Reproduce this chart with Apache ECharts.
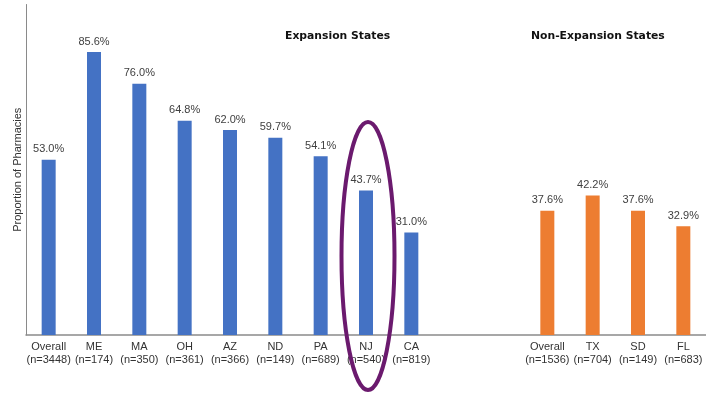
<!DOCTYPE html>
<html>
<head>
<meta charset="utf-8">
<script src="https://cdn.jsdelivr.net/npm/echarts@6/dist/echarts.min.js"></script>
<style>
  html, body { margin: 0; padding: 0; background: #fff; }
  #chart { width: 706px; height: 395px; }
</style>
</head>
<body>
<div id="chart"></div>
<script>
// Categories along the x axis; the two empty slots separate the two state groups
const categories = [
  'Overall\n(n=3448)', 'ME\n(n=174)', 'MA\n(n=350)', 'OH\n(n=361)', 'AZ\n(n=366)',
  'ND\n(n=149)', 'PA\n(n=689)', 'NJ\n(n=540)', 'CA\n(n=819)',
  '', ' ',
  'Overall\n(n=1536)', 'TX\n(n=704)', 'SD\n(n=149)', 'FL\n(n=683)'
];

// Proportion of pharmacies (%) in Medicaid expansion states
const expansionValues = [53.0, 85.6, 76.0, 64.8, 62.0, 59.7, 54.1, 43.7, 31.0, '-', '-', '-', '-', '-', '-'];

// Proportion of pharmacies (%) in non-expansion states
const nonExpansionValues = ['-', '-', '-', '-', '-', '-', '-', '-', '-', '-', '-', 37.6, 42.2, 37.6, 32.9];

const highlightCategory = 'NJ\n(n=540)';

const chart = echarts.init(document.getElementById('chart'));

const labelStyle = {
  show: true,
  position: 'top',
  distance: 5,
  fontFamily: 'Liberation Sans, Arial, sans-serif',
  fontSize: 11,
  color: '#404040',
  formatter: p => p.value.toFixed(1) + '%'
};

const headingStyle = { fontFamily: 'DejaVu Sans', fontWeight: 'bold', fontSize: 10.8, color: '#111' };

chart.setOption({
  animation: false,
  backgroundColor: '#fff',
  title: [
    { text: 'Expansion States', left: 280, top: 26, textStyle: headingStyle },
    { text: 'Non-Expansion States', left: 526, top: 26, textStyle: headingStyle }
  ],
  grid: { left: 26, right: 0, top: 4.5, bottom: 60 },
  xAxis: {
    type: 'category',
    data: categories,
    axisLine: { lineStyle: { color: '#8a8a8a', width: 1.5 } },
    axisTick: { show: false },
    axisLabel: {
      interval: 0,
      margin: 6,
      lineHeight: 12.5,
      fontFamily: 'Liberation Sans, Arial, sans-serif',
      fontSize: 11,
      color: '#333'
    }
  },
  yAxis: {
    type: 'value',
    min: 0,
    max: 100,
    name: 'Proportion of Pharmacies',
    nameLocation: 'middle',
    nameGap: 3,
    nameTextStyle: { fontFamily: 'Liberation Sans, Arial, sans-serif', fontSize: 11, color: '#333' },
    axisLine: { show: true, lineStyle: { color: '#8a8a8a', width: 1 } },
    axisTick: { show: false },
    axisLabel: { show: false },
    splitLine: { show: false }
  },
  series: [
    {
      name: 'Expansion States',
      type: 'bar',
      data: expansionValues,
      barWidth: 14,
      barGap: '-100%',
      itemStyle: { color: '#4472C4' },
      label: labelStyle
    },
    {
      name: 'Non-Expansion States',
      type: 'bar',
      data: nonExpansionValues,
      barWidth: 14,
      itemStyle: { color: '#ED7D31' },
      label: labelStyle
    }
  ]
});

// Purple ellipse drawn around the NJ bar
const cx = chart.convertToPixel({ xAxisIndex: 0 }, highlightCategory) + 2;
chart.setOption({
  graphic: [{
    type: 'ellipse',
    shape: { cx: cx, cy: 256, rx: 26.5, ry: 134 },
    style: { fill: 'none', stroke: '#6B1A6E', lineWidth: 4 },
    z: 100
  }]
});
</script>
</body>
</html>
